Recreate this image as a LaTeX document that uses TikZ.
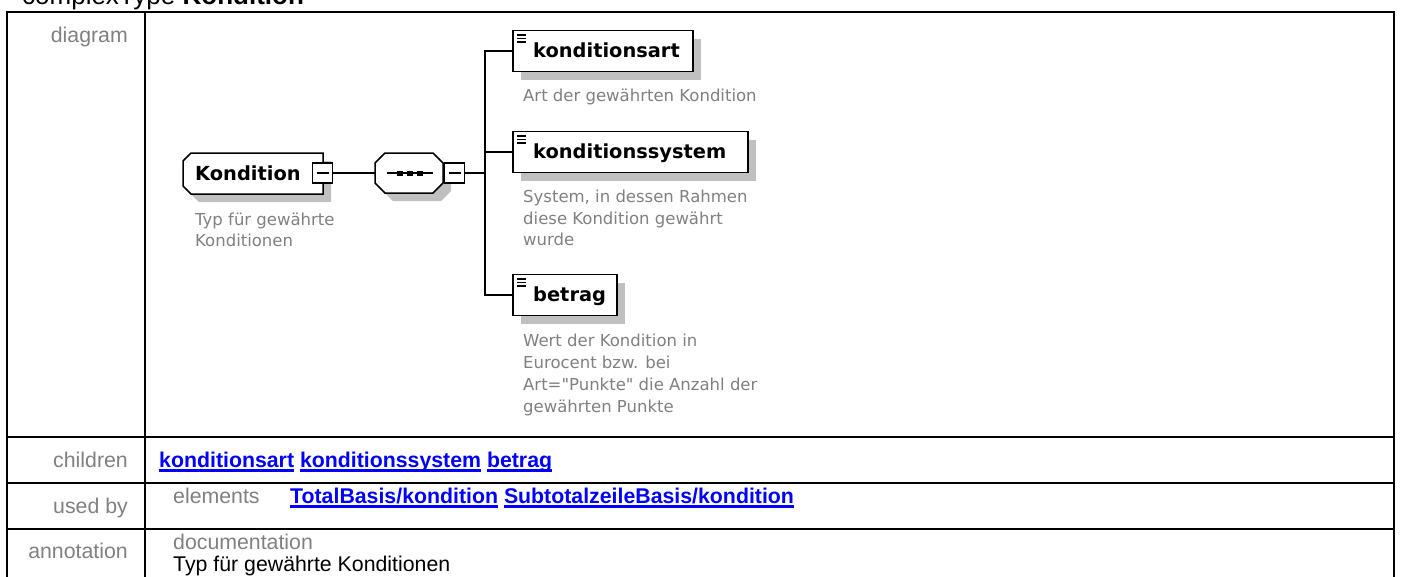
\documentclass[tikz,border=0pt]{standalone}
\usepackage{fontspec}
\setmainfont{Liberation Sans}
\newfontfamily\djv{DejaVu Sans}
\usetikzlibrary{backgrounds}
\definecolor{lbl}{RGB}{128,128,128}
\definecolor{desc}{RGB}{128,128,128}
\definecolor{shd}{RGB}{192,192,192}
\definecolor{lnkc}{RGB}{0,0,255}
\newcommand\lnk[1]{\setbox0\hbox{#1}\rlap{\rule[-4.7pt]{\wd0}{2.3pt}}\box0\relax}
\begin{document}
\begin{tikzpicture}[x=1pt,y=1pt,
  tbl/.style={line width=2pt},
  lab/.style={anchor=base east, inner sep=0, text=lbl, font=\fontsize{21.3}{25}\selectfont},
  ttxt/.style={anchor=base west, inner sep=0, font=\fontsize{21.3}{25}\selectfont},
  links/.style={anchor=base west, inner sep=0, text=lnkc, font=\fontsize{21.3}{25}\selectfont\bfseries},
  box/.style={inner sep=0, outer sep=0, minimum height=41pt},
  minus/.style={draw, line width=1.3pt, fill=white, minimum size=20pt, inner sep=0, outer sep=0,
    path picture={\draw[line width=1.3pt] ([xshift=4pt]path picture bounding box.west) -- ([xshift=-4pt]path picture bounding box.east);}},
  eln/.style={anchor=base west, inner sep=0, font=\djv\bfseries\fontsize{19.4}{23}\selectfont},
  dsc/.style={anchor=base west, inner sep=0, text=desc, font=\djv\fontsize{16.5}{20}\selectfont},
  conn/.style={line width=1.3pt},
  outline/.style={draw, line width=1.5pt, fill=white},
  shadowfill/.style={fill=shd, transform canvas={xshift=8pt,yshift=-8pt}},
]
\useasboundingbox (0,0) rectangle (1401,-576);
\clip (0,0) rectangle (1401,-576);

% title
\node[anchor=base west, inner sep=0, font=\fontsize{26}{30}\selectfont] (title) at (22,-4) {complexType \textbf{Kondition}};

% table
\draw[tbl] (7,-590) -- (7,-12) -- (1394,-12) -- (1394,-590);
\draw[tbl] (145,-12) -- (145,-590);
\draw[tbl] (7,-437) -- (1394,-437);
\draw[tbl] (7,-483) -- (1394,-483);
\draw[tbl] (7,-529) -- (1394,-529);

\node[lab] (lDiag) at (128,-42) {diagram};
\node[lab] (lChild) at (128,-467) {children};
\node[lab] (lUsed) at (128,-513) {used by};
\node[lab] (lAnn) at (128,-558) {annotation};
\node[links] (chl) at (159,-467) {\lnk{konditionsart} \lnk{konditionssystem} \lnk{betrag}};
\node[ttxt, text=lbl] (elem) at (173,-503) {elements};
\node[links] (ubl) at (290,-503) {\lnk{TotalBasis/kondition} \lnk{SubtotalzeileBasis/kondition}};
\node[ttxt, text=lbl] (doc) at (173,-549) {documentation};
\node[ttxt] (docT) at (173,-571) {Typ für gewährte Konditionen};

% diagram nodes
\node[box, minimum width=140pt] (kond) at (253,-173.5) {};
\node[eln] (kondT) at (195,-180) {Kondition};
\node[minus] (kondM) at (322.5,-173) {};
\node[box, minimum width=68pt, minimum height=40pt] (seq) at (409,-173) {};
\node[minus] (seqM) at (454.5,-173) {};
\coordinate (trunk) at (485,-173);
\node[box, minimum width=180pt] (c1) at (603,-51) {};
\node[eln] (c1T) at (533,-57.5) {konditionsart};
\node[box, minimum width=235pt] (c2) at (630.5,-152) {};
\node[eln] (c2T) at (533,-158.5) {konditionssystem};
\node[box, minimum width=104pt] (c3) at (565,-295) {};
\node[eln] (c3T) at (533,-301.5) {betrag};

\begin{scope}[on background layer]
  \fill[shadowfill] ([xshift=8pt]kond.north west) -- (kond.north east) -- (kond.south east) -- ([xshift=8pt]kond.south west) -- ([yshift=8pt]kond.south west) -- ([yshift=-8pt]kond.north west) -- cycle;
  \fill[shadowfill] ([xshift=10pt]seq.north west) -- ([xshift=-10pt]seq.north east) -- ([yshift=-10pt]seq.north east) -- ([yshift=10pt]seq.south east) -- ([xshift=-10pt]seq.south east) -- ([xshift=10pt]seq.south west) -- ([yshift=10pt]seq.south west) -- ([yshift=-10pt]seq.north west) -- cycle;
  \fill[shadowfill] (c1.north west) rectangle (c1.south east);
  \fill[shadowfill] (c2.north west) rectangle (c2.south east);
  \fill[shadowfill] (c3.north west) rectangle (c3.south east);
  \draw[outline] ([xshift=8pt]kond.north west) -- (kond.north east) -- (kond.south east) -- ([xshift=8pt]kond.south west) -- ([yshift=8pt]kond.south west) -- ([yshift=-8pt]kond.north west) -- cycle;
  \draw[outline] ([xshift=10pt]seq.north west) -- ([xshift=-10pt]seq.north east) -- ([yshift=-10pt]seq.north east) -- ([yshift=10pt]seq.south east) -- ([xshift=-10pt]seq.south east) -- ([xshift=10pt]seq.south west) -- ([yshift=10pt]seq.south west) -- ([yshift=-10pt]seq.north west) -- cycle;
  \draw[outline] (c1.north west) rectangle (c1.south east);
  \draw[outline] (c2.north west) rectangle (c2.south east);
  \draw[outline] (c3.north west) rectangle (c3.south east);
\end{scope}

% sequence symbol
\draw[line width=1.3pt] ([xshift=-22pt]seq.center) -- ([xshift=24pt]seq.center);
\foreach \dx in {-9,1,11} \fill ([shift={(\dx-3,-2.5)}]seq.center) rectangle ([shift={(\dx+3,2.5)}]seq.center);

% element icons
\foreach \c in {c1,c2,c3} \foreach \dy in {4.5,8,11.5}
  \draw[line width=1.1pt] ([shift={(4,-\dy)}]\c.north west) -- ([shift={(13,-\dy)}]\c.north west);

% connectors
\draw[conn] (kondM.east) -- (seq.west);
\draw[conn] (seqM.east) -- (trunk);
\draw[conn] (trunk) |- (c1.west);
\draw[conn] (trunk) |- (c2.west);
\draw[conn] (trunk) |- (c3.west);

% descriptions
\node[dsc] (kd1) at (195,-225) {Typ für gewährte};
\node[dsc] (kd2) at (195,-246.5) {Konditionen};
\node[dsc] (d1) at (523,-101.5) {Art der gewährten Kondition};
\node[dsc] (d2a) at (523,-202.5) {System, in dessen Rahmen};
\node[dsc] (d2b) at (523,-224) {diese Kondition gewährt};
\node[dsc] (d2c) at (523,-245.5) {wurde};
\node[dsc] (d3a) at (523,-346) {Wert der Kondition in};
\node[dsc] (d3b) at (523,-368) {Eurocent bzw. bei};
\node[dsc] (d3c) at (523,-390) {Art="Punkte" die Anzahl der};
\node[dsc] (d3d) at (523,-412) {gewährten Punkte};
\end{tikzpicture}
\end{document}
